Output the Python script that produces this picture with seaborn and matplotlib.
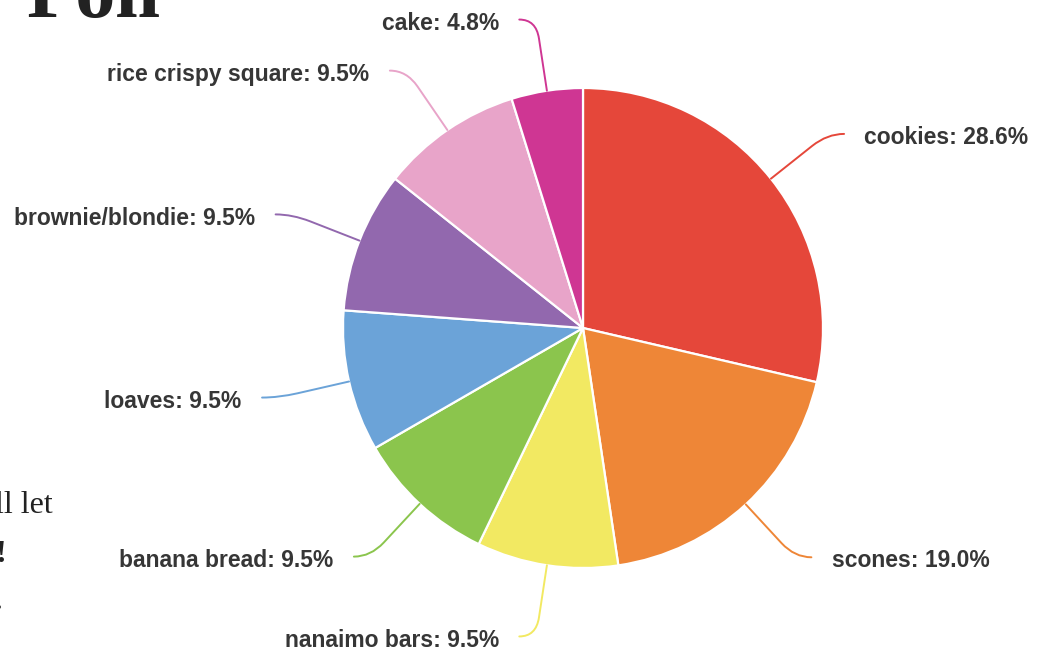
import matplotlib

matplotlib.use("Agg")
import matplotlib.pyplot as plt
import numpy as np
import seaborn as sns
from matplotlib.patches import PathPatch
from matplotlib.path import Path

# poll results (share of votes, %), clockwise from 12 o'clock
flavours = ["cookies", "scones", "nanaimo bars", "banana bread", "loaves",
            "brownie/blondie", "rice crispy square", "cake"]
shares = [28.6, 19.0, 9.5, 9.5, 9.5, 9.5, 9.5, 4.8]
colours = ["#E5473A", "#EE8637", "#F2E962", "#8BC54D", "#6BA3D8",
           "#9268AE", "#E8A4C9", "#CF3693"]

sns.set_theme(style="white")
plt.rcParams["font.family"] = ["Liberation Sans", "DejaVu Sans"]

W, H, DPI = 1044, 650, 100
fig = plt.figure(figsize=(W / DPI, H / DPI), dpi=DPI, facecolor="white")
ax = fig.add_axes([0, 0, 1, 1])

palette = sns.color_palette(colours)
wedges, _ = ax.pie(shares, colors=palette, startangle=90, counterclock=False,
                   radius=1.0, wedgeprops=dict(edgecolor="white", linewidth=1.6))

# pie centre sits at (583, 328) px, radius 240 px
R_PX, CX, CY = 240.0, 583.0, 328.0
ax.set_xlim(-CX / R_PX, (W - CX) / R_PX)
ax.set_ylim(-(H - CY) / R_PX, CY / R_PX)
ax.set_aspect("equal")
ax.axis("off")

# leader lines + labels
for w, name, val, col in zip(wedges, flavours, shares, colours):
    mid = np.deg2rad((w.theta1 + w.theta2) / 2)
    d = np.array([np.cos(mid), np.sin(mid)])
    side = 1 if d[0] >= 0 else -1
    p0 = d * 1.0
    p1 = d * 1.22
    ctrl = d * 1.30
    p2 = ctrl + np.array([side * 0.07, 0])
    path = Path([p0, p1, ctrl, p2], [Path.MOVETO, Path.LINETO, Path.CURVE3, Path.CURVE3])
    ax.add_patch(PathPatch(path, fill=False, edgecolor=col, linewidth=1.4, capstyle="round"))
    ax.text(p2[0] + side * 0.085, p2[1] - 0.015, f"{name}: {val:.1f}%",
            ha="left" if side > 0 else "right", va="center",
            fontsize=16.5, fontweight="bold", color="#363636")

# bits of the slide around the chart (cut off by the screenshot)
serif = ["Liberation Serif", "DejaVu Serif"]
fig.text(27 / W, 1 - 17 / H, "Poll", family=serif, fontweight="bold",
         fontsize=58, color="#222222", ha="left", va="baseline")
fig.text(53 / W, 1 - 513 / H, "ll let", family=serif, fontsize=23,
         color="#222222", ha="right", va="baseline")
fig.text(6 / W, 1 - 562 / H, "!", family=serif, fontweight="bold", fontsize=23,
         color="#222222", ha="right", va="baseline")
fig.text(3 / W, 1 - 609 / H, ".", family=serif, fontsize=23,
         color="#222222", ha="right", va="baseline")

fig.savefig("out.png", dpi=DPI, facecolor="white")
